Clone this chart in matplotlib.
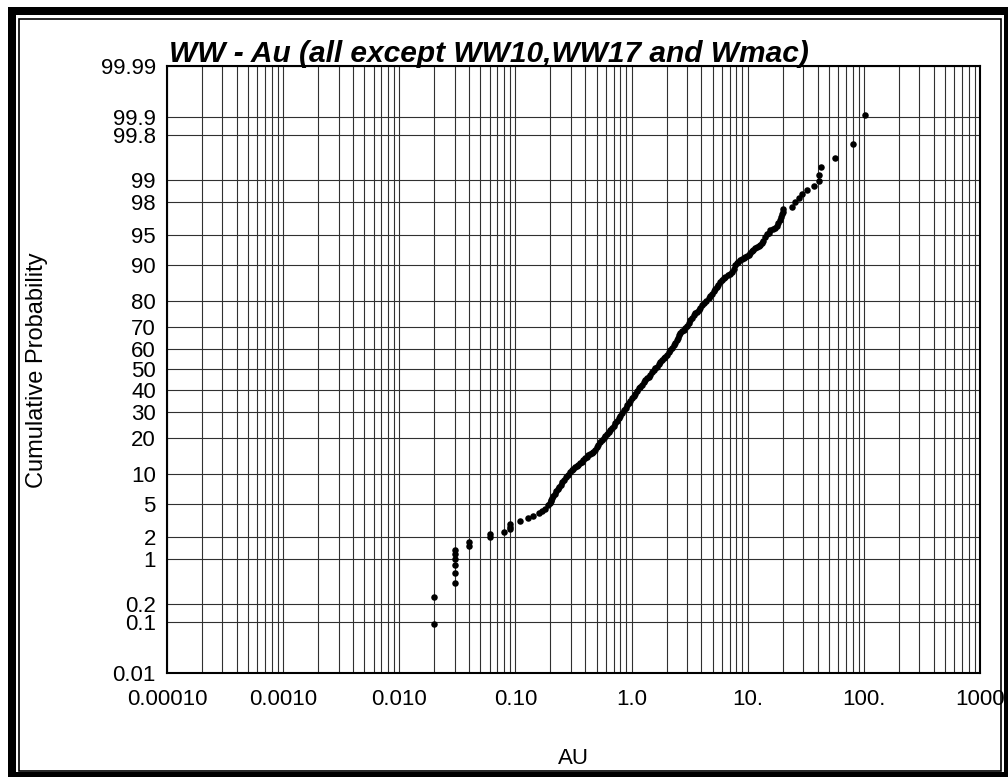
import numpy as np
import matplotlib
matplotlib.use("Agg")
import matplotlib.pyplot as plt
from matplotlib.ticker import FixedLocator, FixedFormatter, NullLocator, NullFormatter
from matplotlib.patches import Rectangle
from statistics import NormalDist

plt.rcParams['font.family'] = ['Liberation Sans', 'DejaVu Sans']

# ---------------- data ----------------
title = "WW - Au (all except WW10,WW17 and Wmac)"
x_label = "AU"
y_label = "Cumulative Probability"

x_ticks = [1e-4, 1e-3, 1e-2, 1e-1, 1, 10, 100, 1000]
x_tick_labels = ["0.00010", "0.0010", "0.010", "0.10", "1.0", "10.", "100.", "1000"]
y_ticks = [0.01, 0.1, 0.2, 1, 2, 5, 10, 20, 30, 40, 50, 60, 70, 80, 90, 95, 98, 99, 99.8, 99.9, 99.99]
y_tick_labels = ["0.01", "0.1", "0.2", "1", "2", "5", "10", "20", "30", "40", "50", "60",
                 "70", "80", "90", "95", "98", "99", "99.8", "99.9", "99.99"]

au = [0.02, 0.02,
      0.03, 0.03, 0.03, 0.03, 0.03, 0.03,
      0.04, 0.04, 0.06, 0.06, 0.08, 0.09, 0.09, 0.09,
      0.11, 0.129, 0.143, 0.158, 0.169, 0.180, 0.192,
      0.199, 0.201, 0.204, 0.207, 0.212, 0.218, 0.224, 0.231, 0.238, 0.246, 0.254, 0.262, 0.272, 0.283, 0.296,
      0.305, 0.315, 0.326, 0.337, 0.348, 0.36, 0.372, 0.385, 0.398, 0.411, 0.425, 0.44, 0.455, 0.47, 0.485,
      0.50, 0.518, 0.537, 0.556, 0.575, 0.595, 0.615, 0.634, 0.654, 0.676, 0.700, 0.722, 0.746, 0.772,
      0.80, 0.83, 0.86, 0.89, 0.92, 0.95, 0.978, 1.007,
      1.04, 1.075, 1.11, 1.15, 1.19, 1.227, 1.27, 1.31, 1.35, 1.40, 1.446, 1.50, 1.55, 1.60, 1.651,
      1.71, 1.77, 1.83, 1.89, 1.946, 2.01, 2.08, 2.15, 2.222, 2.30, 2.38, 2.454, 2.51, 2.57, 2.622,
      2.70, 2.80, 2.896, 3.0, 3.10, 3.199, 3.30, 3.42, 3.55, 3.66, 3.77, 3.92, 4.07, 4.22, 4.40, 4.597,
      4.75, 4.92, 5.09, 5.26, 5.43, 5.60, 5.80, 6.0, 6.2, 6.40, 6.70, 7.00, 7.31, 7.55, 7.80, 8.05, 8.33, 8.61,
      8.9, 9.2, 9.5, 9.85, 10.16, 10.5, 10.85, 11.2, 11.61, 12.0, 12.4, 12.82, 13.2, 13.6, 14.16, 14.6,
      15.1, 15.63, 16.4, 17.26, 17.8, 18.4, 19.06, 19.4, 19.6, 20.0, 20.3,
      24.0, 25.7, 27.9, 29.2, 32.7, 36.9, 40.7, 41.3, 42.7, 55.9, 81.1, 101.4]

cum_prob = [0.09, 0.27,
            0.45, 0.64, 0.82, 1.00, 1.18, 1.36,
            1.55, 1.73, 1.99, 2.19, 2.34, 2.51, 2.70, 2.92,
            3.19, 3.41, 3.63, 3.90, 4.10, 4.35, 4.80,
            5.05, 5.3, 5.55, 5.8, 6.1, 6.4, 6.75, 7.1, 7.5, 7.9, 8.35, 8.8, 9.3, 9.9, 10.5,
            10.8, 11.1, 11.5, 11.9, 12.2, 12.5, 12.9, 13.4, 13.9, 14.3, 14.7, 15.1, 15.4, 15.7, 16.3,
            17.0, 17.9, 18.8, 19.5, 20.2, 20.9, 21.5, 22.2, 22.9, 23.7, 24.6, 25.5, 26.5, 27.5,
            28.6, 29.7, 30.8, 31.9, 33.0, 34.1, 35.1, 36.2,
            37.3, 38.4, 39.6, 40.8, 41.7, 42.5, 43.7, 44.9, 45.8, 46.5, 47.3, 48.6, 49.8, 50.6, 51.4,
            52.5, 53.6, 54.6, 55.5, 56.2, 57.2, 58.3, 59.3, 60.3, 61.6, 62.9, 64.1, 65.2, 66.3, 67.4,
            68.0, 68.6, 69.3, 70.5, 71.7, 72.8, 73.7, 74.6, 75.4, 76.0, 76.7, 77.6, 78.5, 79.3, 80.0, 80.85,
            81.6, 82.4, 83.1, 83.8, 84.5, 85.1, 85.7, 86.3, 86.8, 87.2, 87.6, 88.0, 88.5, 89.2, 89.9, 90.4, 90.7, 91.0,
            91.2, 91.4, 91.6, 91.8, 92.0, 92.3, 92.6, 92.85, 93.1, 93.3, 93.5, 93.65, 93.9, 94.2, 94.8, 95.1,
            95.3, 95.6, 95.75, 95.9, 96.1, 96.35, 96.65, 96.9, 97.15, 97.35, 97.54,
            97.70, 98.01, 98.20, 98.41, 98.61, 98.79, 98.97, 99.15, 99.34, 99.52, 99.71, 99.91]

# ---------------- probability scale ----------------
_nd = NormalDist()
_ppf = np.vectorize(_nd.inv_cdf, otypes=[float])
_cdf = np.vectorize(_nd.cdf, otypes=[float])


def prob_fwd(p):
    p = np.asarray(p, dtype=float)
    if p.size == 0:
        return p
    q = np.clip(p / 100.0, 1e-12, 1 - 1e-12)
    return _ppf(q)


def prob_inv(z):
    z = np.asarray(z, dtype=float)
    if z.size == 0:
        return z
    return _cdf(z) * 100.0


W, H = 1008, 777
fig = plt.figure(figsize=(W / 100, H / 100), dpi=100)
fig.patch.set_facecolor("white")

ax_l, ax_r, ax_t, ax_b = 167, 980, 66, 673
ax = fig.add_axes([ax_l / W, 1 - ax_b / H, (ax_r - ax_l) / W, (ax_b - ax_t) / H])

ax.set_xscale("log")
ax.set_xlim(1e-4, 1e3)
ax.set_yscale("function", functions=(prob_fwd, prob_inv))
ax.set_ylim(0.01, 99.99)

ax.xaxis.set_major_locator(FixedLocator(x_ticks))
ax.xaxis.set_major_formatter(FixedFormatter(x_tick_labels))
minor_x = [m * 10.0 ** e for e in range(-4, 3) for m in range(2, 10)]
ax.xaxis.set_minor_locator(FixedLocator(minor_x))
ax.xaxis.set_minor_formatter(NullFormatter())

ax.yaxis.set_major_locator(FixedLocator(y_ticks))
ax.yaxis.set_major_formatter(FixedFormatter(y_tick_labels))
ax.yaxis.set_minor_locator(NullLocator())

grid_col = "#303030"
ax.grid(True, which="both", axis="x", color=grid_col, linewidth=0.8)
ax.grid(True, which="major", axis="y", color=grid_col, linewidth=0.8)
ax.set_axisbelow(True)

ax.tick_params(axis="both", which="both", length=0, labelsize=16)
ax.tick_params(axis="y", pad=8)
ax.tick_params(axis="x", pad=11.5)

for s in ax.spines.values():
    s.set_linewidth(1.5)
    s.set_color("black")

ax.scatter(au, cum_prob, s=22, c="black", linewidths=0, zorder=3)

# labels
fig.text(ax_l / W + 0.002, 1 - 62 / H, title, fontsize=21.5, fontweight="bold",
         fontstyle="italic", ha="left", va="baseline")
fig.text((ax_l + ax_r) / 2 / W, 1 - 758 / H, x_label, fontsize=16, ha="center", va="center")
fig.text(37 / W, 1 - 370 / H, y_label, fontsize=17, rotation=90, ha="center", va="center")

# outer frame
def frect(x0, y0, x1, y1, **kw):
    fig.patches.append(Rectangle((x0 / W, 1 - y1 / H), (x1 - x0) / W, (y1 - y0) / H,
                                 transform=fig.transFigure, figure=fig, **kw))

frect(8, 7, 1008, 15, facecolor="black", edgecolor="none")        # top band
frect(8, 7, 16, 777, facecolor="black", edgecolor="none")         # left band
frect(8, 772, 1008, 777, facecolor="black", edgecolor="none")     # bottom band
frect(1004, 7, 1008, 777, facecolor="black", edgecolor="none")    # right band
frect(19, 18.5, 1001, 770.5, facecolor="none", edgecolor="black", linewidth=1.2)

fig.savefig("out.png", dpi=100)
